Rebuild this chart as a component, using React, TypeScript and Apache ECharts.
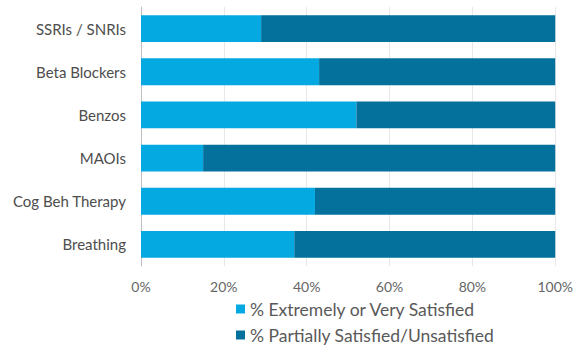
import React, { useEffect, useRef } from "react";
import * as echarts from "echarts";

const categories = ["SSRIs / SNRIs", "Beta Blockers", "Benzos", "MAOIs", "Cog Beh Therapy", "Breathing"];
const satisfied = [29, 43, 52, 15, 42, 37];
const unsatisfied = [71, 57, 48, 85, 58, 63];
const seriesNames = ["% Extremely or Very Satisfied", "% Partially Satisfied/Unsatisfied"];

export default function App() {
  const ref = useRef<HTMLDivElement>(null);
  useEffect(() => {
    if (!ref.current) return;
    const chart = echarts.init(ref.current, null, { renderer: "svg" });
    const font = "Lato, 'Open Sans', sans-serif";
    chart.setOption({
      animation: false,
      backgroundColor: "#ffffff",
      grid: { left: 141, right: 19, top: 7, bottom: 83 },
      legend: {
        orient: "vertical",
        left: 236,
        top: 300,
        padding: 0,
        itemWidth: 9,
        itemHeight: 9,
        itemGap: 8,
        icon: "rect",
        textStyle: { fontFamily: font, fontSize: 17.5, color: "#595959" },
        data: seriesNames,
      },
      xAxis: {
        type: "value",
        min: 0,
        max: 100,
        interval: 20,
        axisLabel: {
          formatter: "{value}%",
          fontFamily: font,
          fontSize: 14,
          color: "#666666",
          margin: 13,
        },
        axisLine: { show: false },
        axisTick: { show: false },
        splitLine: { show: true, lineStyle: { color: "#e8e8e8", width: 1 } },
      },
      yAxis: {
        type: "category",
        inverse: true,
        data: categories,
        axisLabel: { fontFamily: font, fontSize: 15, color: "#4d4d4d", margin: 15 },
        axisLine: { show: true, lineStyle: { color: "#bfbfbf" } },
        axisTick: { show: false },
      },
      series: [
        {
          name: seriesNames[0],
          type: "bar",
          stack: "total",
          data: satisfied,
          barWidth: "62%",
          itemStyle: { color: "#04a9e2" },
        },
        {
          name: seriesNames[1],
          type: "bar",
          stack: "total",
          data: unsatisfied,
          barWidth: "62%",
          itemStyle: { color: "#03719b" },
        },
      ],
    });
    return () => chart.dispose();
  }, []);
  return (
    <div
      ref={ref}
      style={{ position: "fixed", left: 0, top: 0, width: 576, height: 349 }}
    />
  );
}
